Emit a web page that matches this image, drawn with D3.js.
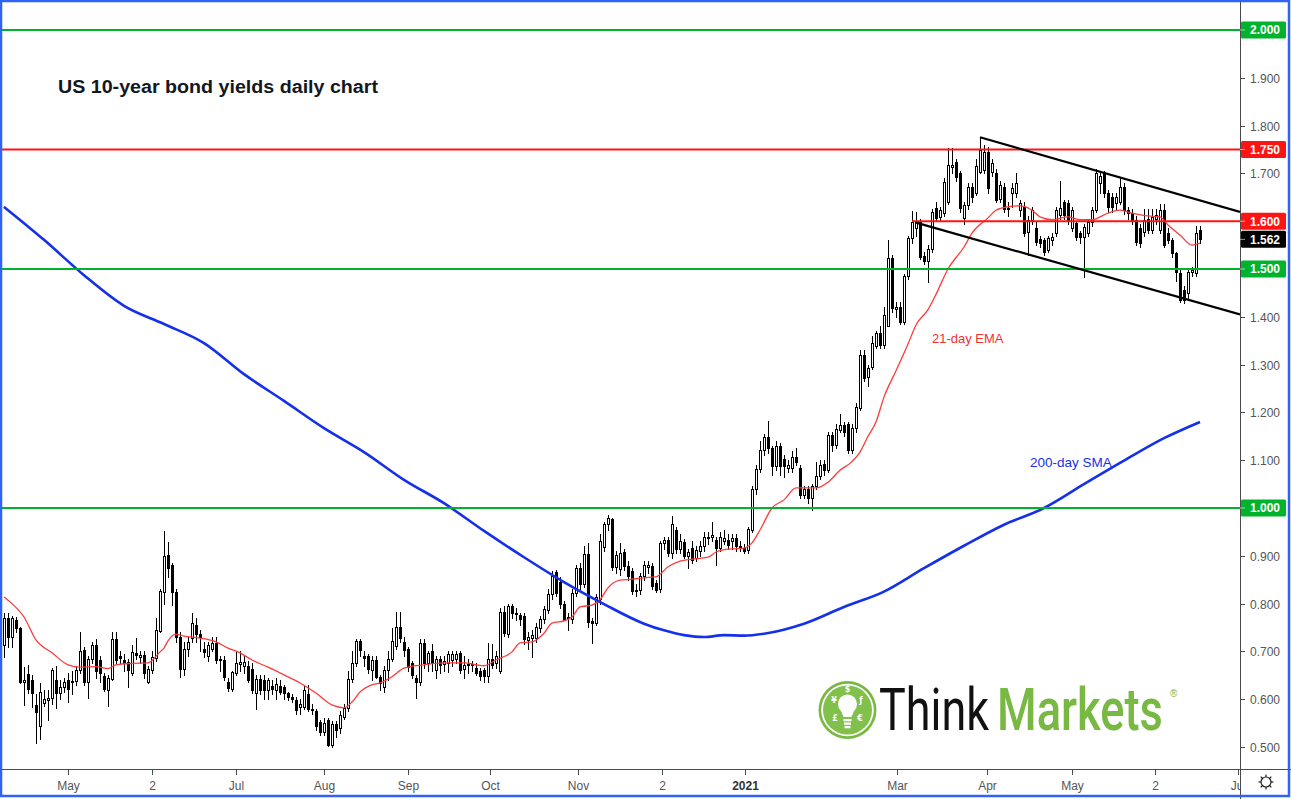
<!DOCTYPE html>
<html><head><meta charset="utf-8">
<script src="https://cdn.jsdelivr.net/npm/d3@7"></script>
<style>body{margin:0;background:#fff}svg{display:block}</style>
</head><body>
<svg id="c" width="1291" height="799"></svg>
<script>
// ---------- DATA ----------
const openV=[0.713,0.769,0.731,0.765,0.748,0.635,0.652,0.640,0.588,0.543,0.593,0.598,0.602,0.640,0.612,0.626,0.641,0.636,0.638,0.661,
0.703,0.635,0.684,0.713,0.683,0.649,0.619,0.643,0.725,0.690,0.683,0.677,0.655,0.697,0.688,0.692,0.636,0.661,0.686,0.743,
0.824,0.902,0.881,0.824,0.730,0.664,0.705,0.727,0.755,0.737,0.706,0.690,0.706,0.718,0.682,0.683,0.637,0.621,0.655,0.674,
0.669,0.670,0.664,0.612,0.643,0.641,0.619,0.627,0.619,0.627,0.626,0.612,0.604,0.598,0.583,0.584,0.610,0.579,0.576,0.553,
0.532,0.556,0.505,0.549,0.539,0.563,0.581,0.642,0.676,0.722,0.690,0.690,0.661,0.682,0.647,0.626,0.661,0.685,0.711,0.752,
0.720,0.704,0.675,0.644,0.635,0.718,0.675,0.701,0.661,0.685,0.674,0.675,0.682,0.685,0.696,0.664,0.674,0.674,0.665,0.658,
0.661,0.649,0.684,0.675,0.658,0.783,0.736,0.794,0.781,0.776,0.774,0.724,0.729,0.727,0.748,0.767,0.787,0.820,0.867,0.846,
0.800,0.773,0.767,0.823,0.875,0.840,0.904,0.764,0.760,0.809,0.918,0.966,0.976,0.877,0.872,0.907,0.879,0.868,0.826,0.828,
0.858,0.876,0.879,0.844,0.830,0.926,0.934,0.905,0.955,0.915,0.929,0.900,0.916,0.895,0.909,0.920,0.937,0.939,0.934,0.916,
0.930,0.933,0.930,0.937,0.921,0.917,0.912,0.954,1.039,1.081,1.121,1.148,1.125,1.087,1.130,1.102,1.083,1.083,1.107,1.083,
1.027,1.039,1.020,1.045,1.067,1.093,1.080,1.153,1.132,1.163,1.174,1.176,1.121,1.167,1.209,1.320,1.274,1.295,1.339,1.366,
1.341,1.381,1.523,1.416,1.420,1.389,1.485,1.565,1.585,1.598,1.527,1.517,1.542,1.628,1.609,1.617,1.640,1.713,1.724,1.701,
1.607,1.634,1.672,1.660,1.703,1.707,1.745,1.703,1.701,1.646,1.672,1.628,1.659,1.659,1.623,1.630,1.577,1.603,1.586,1.563,
1.561,1.540,1.561,1.575,1.613,1.640,1.638,1.586,1.596,1.575,1.567,1.575,1.598,1.623,1.680,1.701,1.659,1.651,1.638,1.640,
1.672,1.623,1.617,1.603,1.586,1.577,1.605,1.582,1.605,1.582,1.623,1.575,1.561,1.533,1.492,1.456,1.450,1.494,1.492,1.582];
const highV=[0.780,0.780,0.775,0.772,0.752,0.668,0.672,0.650,0.610,0.633,0.620,0.619,0.665,0.669,0.640,0.645,0.655,0.660,0.670,0.740,
0.710,0.690,0.720,0.725,0.690,0.655,0.650,0.740,0.741,0.700,0.695,0.685,0.713,0.727,0.700,0.700,0.670,0.700,0.770,0.830,
0.952,0.929,0.885,0.830,0.740,0.720,0.730,0.781,0.770,0.745,0.720,0.720,0.730,0.730,0.690,0.690,0.645,0.660,0.700,0.700,
0.690,0.680,0.675,0.650,0.650,0.650,0.645,0.640,0.645,0.640,0.630,0.615,0.610,0.605,0.600,0.628,0.630,0.590,0.580,0.556,
0.560,0.560,0.555,0.555,0.575,0.590,0.660,0.700,0.725,0.725,0.700,0.695,0.690,0.690,0.650,0.670,0.700,0.750,0.783,0.783,
0.730,0.710,0.680,0.650,0.725,0.725,0.700,0.715,0.690,0.690,0.690,0.700,0.700,0.700,0.700,0.690,0.685,0.680,0.675,0.665,
0.666,0.717,0.715,0.700,0.790,0.795,0.800,0.800,0.790,0.780,0.780,0.740,0.745,0.760,0.775,0.795,0.830,0.868,0.870,0.855,
0.805,0.780,0.830,0.880,0.885,0.920,0.927,0.770,0.820,0.945,0.970,0.985,0.980,0.910,0.926,0.915,0.890,0.875,0.840,0.865,
0.890,0.890,0.885,0.850,0.930,0.940,0.940,0.983,0.960,0.945,0.935,0.915,0.930,0.920,0.930,0.950,0.950,0.970,0.940,0.950,
0.955,0.945,0.945,0.945,0.930,0.925,0.960,1.045,1.090,1.140,1.155,1.183,1.130,1.140,1.135,1.110,1.100,1.120,1.125,1.090,
1.045,1.045,1.050,1.097,1.100,1.100,1.160,1.160,1.175,1.197,1.180,1.180,1.175,1.220,1.330,1.330,1.300,1.360,1.370,1.380,
1.420,1.561,1.530,1.430,1.430,1.490,1.570,1.621,1.620,1.605,1.535,1.550,1.625,1.640,1.630,1.690,1.753,1.753,1.730,1.705,
1.640,1.680,1.680,1.730,1.776,1.760,1.755,1.730,1.710,1.685,1.680,1.640,1.680,1.700,1.645,1.640,1.610,1.630,1.600,1.570,
1.565,1.570,1.575,1.630,1.685,1.645,1.645,1.630,1.600,1.580,1.595,1.605,1.630,1.710,1.705,1.705,1.665,1.660,1.660,1.690,
1.680,1.630,1.625,1.610,1.595,1.625,1.625,1.625,1.625,1.635,1.635,1.585,1.565,1.535,1.500,1.465,1.500,1.505,1.590,1.590];
const lowV=[0.689,0.710,0.710,0.740,0.633,0.588,0.612,0.584,0.508,0.516,0.585,0.556,0.590,0.581,0.600,0.615,0.595,0.610,0.630,0.655,
0.630,0.602,0.675,0.645,0.635,0.618,0.586,0.640,0.675,0.675,0.660,0.625,0.650,0.685,0.675,0.645,0.633,0.655,0.680,0.740,
0.800,0.856,0.797,0.720,0.646,0.650,0.690,0.720,0.720,0.700,0.688,0.680,0.700,0.675,0.660,0.640,0.617,0.618,0.650,0.660,
0.655,0.635,0.612,0.580,0.610,0.600,0.600,0.610,0.600,0.610,0.600,0.598,0.595,0.570,0.570,0.580,0.575,0.568,0.536,0.525,
0.525,0.502,0.500,0.520,0.530,0.558,0.575,0.635,0.670,0.690,0.670,0.655,0.640,0.645,0.620,0.615,0.640,0.680,0.705,0.720,
0.690,0.660,0.645,0.602,0.630,0.665,0.660,0.660,0.645,0.655,0.660,0.656,0.670,0.675,0.655,0.645,0.655,0.660,0.650,0.640,
0.635,0.637,0.665,0.665,0.655,0.733,0.730,0.770,0.765,0.755,0.715,0.704,0.689,0.720,0.740,0.760,0.780,0.810,0.815,0.790,
0.765,0.745,0.760,0.815,0.830,0.835,0.752,0.717,0.755,0.800,0.910,0.955,0.870,0.865,0.860,0.870,0.850,0.820,0.815,0.820,
0.850,0.865,0.830,0.825,0.825,0.915,0.900,0.895,0.905,0.905,0.895,0.875,0.885,0.890,0.900,0.910,0.925,0.930,0.880,0.910,
0.925,0.915,0.915,0.910,0.910,0.905,0.905,0.950,1.030,1.075,1.110,1.115,1.070,1.080,1.070,1.065,1.075,1.075,1.090,1.020,
1.020,1.010,0.996,1.040,1.060,1.070,1.075,1.120,1.125,1.160,1.150,1.115,1.115,1.160,1.205,1.265,1.255,1.290,1.335,1.335,
1.335,1.380,1.410,1.400,1.385,1.385,1.480,1.555,1.570,1.520,1.510,1.473,1.535,1.600,1.600,1.610,1.635,1.700,1.685,1.620,
1.595,1.625,1.640,1.655,1.700,1.700,1.660,1.695,1.640,1.640,1.620,1.610,1.630,1.650,1.610,1.570,1.530,1.595,1.550,1.545,
1.530,1.535,1.550,1.570,1.605,1.605,1.595,1.580,1.560,1.555,1.483,1.570,1.590,1.620,1.660,1.650,1.620,1.620,1.625,1.635,
1.615,1.605,1.595,1.550,1.545,1.570,1.575,1.575,1.595,1.575,1.545,1.555,1.525,1.475,1.432,1.428,1.440,1.485,1.485,1.555];
const closeV=[0.769,0.731,0.769,0.748,0.635,0.641,0.621,0.612,0.574,0.615,0.601,0.602,0.662,0.612,0.626,0.637,0.621,0.638,0.662,0.701,
0.637,0.684,0.713,0.659,0.655,0.621,0.644,0.725,0.682,0.687,0.675,0.661,0.699,0.692,0.693,0.655,0.664,0.688,0.744,0.826,
0.900,0.874,0.824,0.730,0.664,0.705,0.720,0.760,0.737,0.730,0.699,0.713,0.717,0.682,0.685,0.647,0.623,0.656,0.675,0.677,
0.678,0.640,0.619,0.643,0.619,0.619,0.640,0.622,0.631,0.616,0.612,0.604,0.600,0.577,0.590,0.619,0.579,0.577,0.543,0.532,
0.551,0.504,0.548,0.535,0.567,0.581,0.642,0.676,0.722,0.703,0.687,0.664,0.682,0.647,0.634,0.661,0.684,0.722,0.752,0.729,
0.703,0.668,0.651,0.637,0.718,0.675,0.696,0.675,0.685,0.672,0.679,0.694,0.694,0.694,0.662,0.671,0.671,0.671,0.655,0.649,
0.649,0.685,0.672,0.690,0.783,0.738,0.794,0.781,0.778,0.768,0.725,0.731,0.734,0.752,0.768,0.788,0.820,0.858,0.823,0.800,
0.766,0.769,0.823,0.874,0.840,0.904,0.762,0.760,0.814,0.932,0.966,0.980,0.877,0.902,0.905,0.879,0.858,0.827,0.828,0.858,
0.881,0.881,0.837,0.828,0.926,0.934,0.906,0.966,0.915,0.931,0.900,0.907,0.891,0.912,0.920,0.939,0.940,0.943,0.916,0.940,
0.938,0.923,0.937,0.920,0.917,0.911,0.957,1.039,1.081,1.121,1.148,1.125,1.087,1.130,1.087,1.088,1.090,1.106,1.097,1.027,
1.039,1.020,1.045,1.067,1.090,1.080,1.153,1.132,1.165,1.174,1.158,1.121,1.167,1.211,1.320,1.272,1.293,1.345,1.366,1.341,
1.404,1.523,1.418,1.420,1.389,1.485,1.565,1.598,1.600,1.525,1.517,1.542,1.619,1.607,1.623,1.682,1.718,1.718,1.692,1.628,
1.634,1.672,1.651,1.715,1.749,1.745,1.669,1.722,1.644,1.676,1.626,1.626,1.669,1.680,1.638,1.575,1.603,1.623,1.556,1.554,
1.536,1.565,1.567,1.623,1.628,1.613,1.603,1.623,1.567,1.567,1.588,1.598,1.623,1.701,1.695,1.659,1.630,1.630,1.651,1.672,
1.623,1.617,1.603,1.556,1.554,1.603,1.582,1.609,1.613,1.623,1.550,1.561,1.533,1.494,1.435,1.435,1.494,1.498,1.575,1.562];

const emaIdx=[0,2,5,8,12,16,19,23,26,28,32,36,39,40,41,43,45,49,53,56,59,62,66,70,74,78,82,85,87,89,92,94,97,100,105,110,115,120,123,127,129,132,135,137,140,142,144,147,149,151,154,157,160,163,166,169,172,176,178,181,185,187,189,192,195,198,201,203,206,209,212,214,216,218,220,223,226,228,231,233,236,240,242,246,248,251,254,257,259,262,266,269,272,276,279,282,286,289,291,294,297,299];
const emaVal=[0.814,0.800,0.772,0.724,0.697,0.672,0.667,0.668,0.664,0.672,0.675,0.676,0.699,0.707,0.722,0.736,0.732,0.728,0.720,0.707,0.697,0.682,0.667,0.651,0.634,0.613,0.588,0.582,0.594,0.615,0.630,0.634,0.647,0.665,0.672,0.676,0.676,0.670,0.682,0.699,0.718,0.720,0.738,0.759,0.764,0.772,0.793,0.797,0.808,0.833,0.849,0.851,0.854,0.856,0.877,0.889,0.893,0.897,0.908,0.914,0.916,0.927,0.954,1.000,1.017,1.042,1.042,1.042,1.054,1.079,1.097,1.117,1.150,1.180,1.232,1.287,1.343,1.383,1.415,1.447,1.500,1.546,1.575,1.607,1.623,1.630,1.632,1.623,1.609,1.603,1.609,1.603,1.603,1.617,1.623,1.617,1.611,1.609,1.592,1.571,1.550,1.554];

const smaIdx=[0,10,20,30,40,50,60,70,80,90,100,110,120,130,140,150,160,165,170,175,180,185,190,200,210,220,230,240,250,260,270,280,290,299];
const smaVal=[1.630,1.561,1.487,1.423,1.385,1.345,1.280,1.224,1.167,1.117,1.059,1.010,0.952,0.897,0.845,0.799,0.758,0.744,0.734,0.730,0.734,0.733,0.737,0.758,0.793,0.825,0.874,0.921,0.965,1.000,1.050,1.099,1.146,1.180];

const xTickIdx=[16,37,58,80,101,121.5,143.5,164.5,185.25,223.25,245.75,267,287.75,308.5];
const xTickLabels=["May","2","Jul","Aug","Sep","Oct","Nov","2","2021","Mar","Apr","May","2","Jul"];
const yTickVals=[0.5,0.6,0.7,0.8,0.9,1.1,1.2,1.3,1.4,1.7,1.8,1.9];

const levelVals=[2.0,1.75,1.6,1.5,1.0];
const levelKinds=["g","r","r","g","g"];
const levelStartIdx=[-2,-2,227,-2,-2];
const lastPrice=1.562;
const upperTrend=[[244,1.7755],[309,1.6195]];
const lowerTrend=[[228,1.597],[309,1.405]];

// ---------- DRAW ----------
const W=1291,H=799, plotR=1240, plotB=769;
const GREEN="#00b32d", RED="#ff1414", BLUE="#1430ea", EMA="#ff3a3a";
const svg=d3.select("#c");
svg.append("rect").attr("width",W).attr("height",H).attr("fill","#fff");

const x=d3.scaleLinear().domain([0,299]).range([4,1200]);
const y=d3.scaleLinear().domain([0.5,2.0]).range([747,30]);

const defs=svg.append("defs");
defs.append("clipPath").attr("id","plot").append("rect").attr("x",0).attr("y",0).attr("width",plotR).attr("height",plotB);
defs.append("clipPath").attr("id","xax").append("rect").attr("x",0).attr("y",plotB).attr("width",plotR).attr("height",H-plotB);

const plot=svg.append("g").attr("clip-path","url(#plot)");

// candles
const cg=plot.append("g").attr("shape-rendering","crispEdges");
d3.range(closeV.length).forEach(i=>{
  const o=openV[i],h=highV[i],l=lowV[i],c=closeV[i];
  const cx=Math.round(x(i));
  const yh=Math.round(y(h)), yl=Math.round(y(l));
  cg.append("line").attr("x1",cx+0.5).attr("x2",cx+0.5).attr("y1",yh).attr("y2",yl+1)
    .attr("stroke","#000").attr("stroke-width",1);
  const top=Math.round(y(Math.max(o,c))), bot=Math.round(y(Math.min(o,c)));
  if(c>=o){
    cg.append("rect").attr("x",cx-0.5).attr("y",top+0.5).attr("width",2).attr("height",Math.max(bot-top,1))
      .attr("fill","#fff").attr("stroke","#000").attr("stroke-width",1);
  }else{
    cg.append("rect").attr("x",cx-1).attr("y",top).attr("width",3).attr("height",Math.max(bot-top+1,1))
      .attr("fill","#000");
  }
});

// EMA and SMA
plot.append("path").datum(emaIdx.map((d,k)=>[d,emaVal[k]]))
  .attr("d",d3.line().x(d=>x(d[0])).y(d=>y(d[1])).curve(d3.curveMonotoneX))
  .attr("fill","none").attr("stroke",EMA).attr("stroke-width",1.3);
plot.append("path").datum(smaIdx.map((d,k)=>[d,smaVal[k]]))
  .attr("d",d3.line().x(d=>x(d[0])).y(d=>y(d[1])).curve(d3.curveMonotoneX))
  .attr("fill","none").attr("stroke",BLUE).attr("stroke-width",2.6);

// level lines
levelVals.forEach((v,k)=>{
  const yy=y(v);
  plot.append("line").attr("x1",Math.max(0,x(levelStartIdx[k]))).attr("x2",plotR).attr("y1",yy).attr("y2",yy)
    .attr("stroke",levelKinds[k]==="g"?GREEN:RED).attr("stroke-width",2);
});

// trendlines
[upperTrend,lowerTrend].forEach(t=>{
  plot.append("line").attr("x1",x(t[0][0])).attr("y1",y(t[0][1])).attr("x2",x(t[1][0])).attr("y2",y(t[1][1]))
    .attr("stroke","#000").attr("stroke-width",2.2);
});

// annotations
svg.append("text").attr("x",932).attr("y",343).text("21-day EMA")
  .attr("font-family","Liberation Sans, Arial, sans-serif").attr("font-size",13).attr("fill","#f03030");
svg.append("text").attr("x",1030).attr("y",467).text("200-day SMA")
  .attr("font-family","Liberation Sans, Arial, sans-serif").attr("font-size",13.5).attr("fill",BLUE);

// title
const title=svg.append("text").attr("x",58).attr("y",93).text("US 10-year bond yields daily chart")
  .attr("font-family","Liberation Sans, Arial, sans-serif").attr("font-weight","bold").attr("font-size",17.5).attr("fill","#131722");
title.attr("textLength",320).attr("lengthAdjust","spacingAndGlyphs");

// axes
const AX="#4a4a4a";
svg.append("line").attr("x1",0).attr("x2",W).attr("y1",plotB+0.5).attr("y2",plotB+0.5).attr("stroke",AX).attr("stroke-width",1);
svg.append("line").attr("x1",plotR+0.5).attr("x2",plotR+0.5).attr("y1",0).attr("y2",H).attr("stroke",AX).attr("stroke-width",1);

// right axis ticks
const ry=svg.append("g");
yTickVals.forEach(v=>{
  const yy=Math.round(y(v))+0.5;
  ry.append("line").attr("x1",plotR).attr("x2",plotR+5).attr("y1",yy).attr("y2",yy).attr("stroke",AX);
  ry.append("text").attr("x",1250).attr("y",yy).attr("dy","0.35em").text(d3.format(".3f")(v))
    .attr("font-family","Liberation Sans, Arial, sans-serif").attr("font-size",12).attr("fill","#555");
});
// level labels
const boxes=levelVals.map((v,k)=>({v,fill:levelKinds[k]==="g"?GREEN:RED})).concat([{v:lastPrice,fill:"#000"}]);
boxes.forEach(b=>{
  const yy=y(b.v);
  ry.append("rect").attr("x",plotR+1).attr("y",yy-8.5).attr("width",45).attr("height",17).attr("rx",1.5).attr("fill",b.fill);
  ry.append("line").attr("x1",plotR).attr("x2",plotR+5).attr("y1",yy).attr("y2",yy).attr("stroke","#fff").attr("stroke-opacity",0.6);
  ry.append("text").attr("x",1250).attr("y",yy).attr("dy","0.36em").text(d3.format(".3f")(b.v))
    .attr("font-family","Liberation Sans, Arial, sans-serif").attr("font-size",12).attr("font-weight","bold").attr("fill","#fff");
});

// bottom axis
const bx=svg.append("g").attr("clip-path","url(#xax)");
xTickIdx.forEach((d,k)=>{
  const xx=Math.round(x(d))+0.5;
  bx.append("line").attr("x1",xx).attr("x2",xx).attr("y1",plotB+1).attr("y2",plotB+6).attr("stroke",AX);
  const is21=xTickLabels[k]==="2021";
  bx.append("text").attr("x",xx).attr("y",790).attr("text-anchor","middle").text(xTickLabels[k])
    .attr("font-family","Liberation Sans, Arial, sans-serif").attr("font-size",12)
    .attr("font-weight",is21?"bold":"normal").attr("fill",is21?"#333":"#555");
});

// gear icon
const gear=svg.append("g").attr("transform","translate(1266,782)");
gear.append("circle").attr("r",5).attr("fill","none").attr("stroke","#222").attr("stroke-width",1.2);
d3.range(8).forEach(k=>{
  const a=k*Math.PI/4;
  gear.append("line").attr("x1",5*Math.cos(a)).attr("y1",5*Math.sin(a)).attr("x2",7.5*Math.cos(a)).attr("y2",7.5*Math.sin(a))
    .attr("stroke","#222").attr("stroke-width",1.2);
});

// ThinkMarkets logo
const LG="#78b843";
const lg=svg.append("g");
lg.append("circle").attr("cx",847.5).attr("cy",710).attr("r",29).attr("fill",LG);
lg.append("circle").attr("cx",847.5).attr("cy",710).attr("r",26.3).attr("fill","#fff");
lg.append("circle").attr("cx",847.5).attr("cy",710).attr("r",24.5).attr("fill","#82c04c");
lg.append("circle").attr("cx",847.5).attr("cy",704).attr("r",9.5).attr("fill","#fff");
lg.append("path").attr("d","M839.5,707 L855.5,707 L851.5,717 L843.5,717 Z").attr("fill","#fff");
[719,722.5,726].forEach((yy,k)=>lg.append("rect").attr("x",843.5+k*0.5).attr("y",yy).attr("width",8-k).attr("height",2.3).attr("fill","#fff"));
[["$",847.5,692],["¥",834,703],["ƒ",861,703],["£",835,721],["€",860,721]].forEach(s=>{
  lg.append("text").attr("x",s[1]).attr("y",s[2]).attr("text-anchor","middle").text(s[0])
    .attr("font-family","DejaVu Sans, sans-serif").attr("font-size",8).attr("font-weight","bold").attr("fill","#fff");
});
// brand words: horizontally scaled by transform so their real boxes match the reference widths
function brandWord(txt,x0,target,fill,weight){
  const g=lg.append("g");
  const t=g.append("text").attr("x",0).attr("y",0).text(txt).attr("font-family","Roboto, sans-serif")
    .attr("font-size",59).attr("font-weight",weight).attr("fill",fill);
  const w=t.node().getComputedTextLength()||target;
  g.attr("transform",`translate(${x0},730) scale(${target/w},1)`);
}
brandWord("Think",879,110,"#111",400);
brandWord("Markets",997,166,LG,500);
lg.append("text").attr("x",1170).attr("y",697).text("®").attr("font-family","Liberation Sans, Arial, sans-serif").attr("font-size",10).attr("fill",LG);

// frame
svg.append("rect").attr("x",1).attr("y",1).attr("width",W-3).attr("height",H-4).attr("fill","none").attr("stroke","#2f62f5").attr("stroke-width",2.5);
</script>
</body></html>
